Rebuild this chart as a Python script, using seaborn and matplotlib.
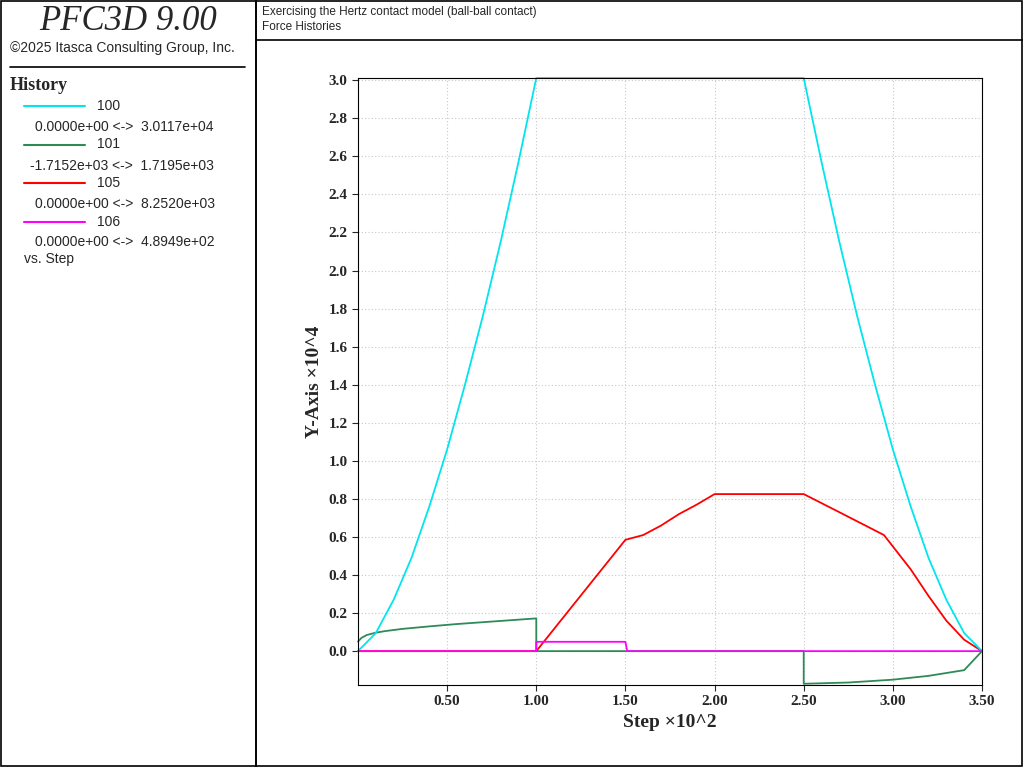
import matplotlib
matplotlib.use("Agg")
import matplotlib.pyplot as plt
import seaborn as sns
import pandas as pd
from matplotlib.patches import Rectangle
from matplotlib.lines import Line2D

sns.set_style("white")
plt.rcParams['font.family'] = ['Liberation Sans', 'DejaVu Sans']

# History 100 (cyan)
x100 = [0, 0.1, 0.2, 0.3, 0.4, 0.5, 0.6, 0.7, 0.8, 0.9, 1.0, 2.5, 2.6, 2.7, 2.8, 2.9, 3.0, 3.1, 3.2, 3.3, 3.4, 3.5]
y100 = [0, 0.095, 0.27, 0.49, 0.76, 1.06, 1.40, 1.76, 2.15, 2.57, 3.0117, 3.0117, 2.57, 2.15, 1.76, 1.40, 1.06, 0.76, 0.49, 0.27, 0.095, 0]
# History 101 (green)
x101 = [0, 0.02, 0.05, 0.1, 0.15, 0.25, 0.4, 0.55, 0.7, 0.85, 1.0, 1.0, 2.5, 2.5, 2.75, 3.0, 3.2, 3.4, 3.45, 3.5]
y101 = [0.05, 0.07, 0.085, 0.097, 0.105, 0.117, 0.13, 0.142, 0.152, 0.162, 0.172, 0, 0, -0.1715, -0.165, -0.15, -0.13, -0.1, -0.05, 0]
# History 105 (red)
x105 = [0, 1.0, 1.5, 1.6, 1.7, 1.8, 1.9, 2.0, 2.5, 2.7, 2.95, 3.1, 3.2, 3.3, 3.4, 3.5]
y105 = [0, 0, 0.585, 0.61, 0.66, 0.72, 0.77, 0.8252, 0.8252, 0.73, 0.61, 0.43, 0.29, 0.16, 0.06, 0]
# History 106 (magenta)
x106 = [0, 1.0, 1.0, 1.5, 1.51, 3.5]
y106 = [0, 0, 0.049, 0.049, 0, 0]

xticks = [0.5, 1.0, 1.5, 2.0, 2.5, 3.0, 3.5]
yticks = [round(0.2 * i, 1) for i in range(16)]

fig = plt.figure(figsize=(10.24, 7.68), dpi=100)
W, H = 1024, 768
def fx(px): return px / W
def fy(py): return 1 - py / H

ax = fig.add_axes([fx(358), fy(685), fx(982) - fx(358), fy(78) - fy(685)])
for xs, ys, c in [(x101, y101, '#2e8b57'), (x105, y105, '#ff0000'), (x100, y100, '#00e5ee'), (x106, y106, '#ff00ff')]:
    sns.lineplot(x=xs, y=ys, ax=ax, color=c, lw=1.3, sort=False, estimator=None, clip_on=False)
ax.set_xlim(0, 3.5)
ax.set_ylim(-0.178, 3.0117)
ax.set_xticks(xticks)
ax.set_xticklabels([f"{v:.2f}" for v in xticks])
ax.set_yticks(yticks)
ax.set_yticklabels([f"{v:.1f}" for v in yticks])
ax.grid(True, color='#c8c8c8', ls=(0, (1, 2)), lw=0.8)
for s in ax.spines.values():
    s.set_color('black')
ax.tick_params(labelsize=11, length=4, direction='out', left=True, bottom=True)
for t in ax.get_xticklabels() + ax.get_yticklabels():
    t.set_family('Liberation Serif')
    t.set_fontweight('bold')
ax.set_xlabel("Step ×10^2", fontsize=14, fontweight='bold', family='Liberation Serif')
ax.set_ylabel("Y-Axis ×10^4", fontsize=14, fontweight='bold', family='Liberation Serif')

# frames
fig.patches.append(Rectangle((fx(1), fy(766)), fx(255), fy(1) - fy(766), transform=fig.transFigure, fill=False, ec='black', lw=1.2))
fig.patches.append(Rectangle((fx(256), fy(766)), fx(766), fy(1) - fy(766), transform=fig.transFigure, fill=False, ec='black', lw=1.2))
fig.add_artist(Line2D([fx(256), fx(1022)], [fy(40), fy(40)], color='black', lw=1.2))
fig.add_artist(Line2D([fx(10), fx(245)], [fy(67), fy(67)], color='black', lw=1.2))

fig.text(fx(128), fy(22), "PFC3D 9.00", ha='center', va='center', fontsize=25, style='italic', family='Liberation Serif')
fig.text(fx(10), fy(48), "©2025 Itasca Consulting Group, Inc.", va='center', fontsize=10)
fig.text(fx(262), fy(12), "Exercising the Hertz contact model (ball-ball contact)", va='center', fontsize=8.5)
fig.text(fx(262), fy(27), "Force Histories", va='center', fontsize=8.5)
fig.text(fx(10), fy(86), "History", va='center', fontsize=13, fontweight='bold', family='Liberation Serif')

entries = [("100", "0.0000e+00 <->  3.0117e+04", '#00e5ee'),
           ("101", "-1.7152e+03 <->  1.7195e+03", '#2e8b57'),
           ("105", "0.0000e+00 <->  8.2520e+03", '#ff0000'),
           ("106", "0.0000e+00 <->  4.8949e+02", '#ff00ff')]
y0 = 106
for i, (n, r, c) in enumerate(entries):
    yy = y0 + i * 38.5
    fig.add_artist(Line2D([fx(24), fx(85)], [fy(yy), fy(yy)], color=c, lw=1.5))
    fig.text(fx(97), fy(yy), n, va='center', fontsize=10)
    fig.text(fx(35) if not r.startswith('-') else fx(30), fy(yy + 21), r, va='center', fontsize=10)
fig.text(fx(24), fy(259), "vs. Step", va='center', fontsize=10)

fig.savefig("out.png", dpi=100)
